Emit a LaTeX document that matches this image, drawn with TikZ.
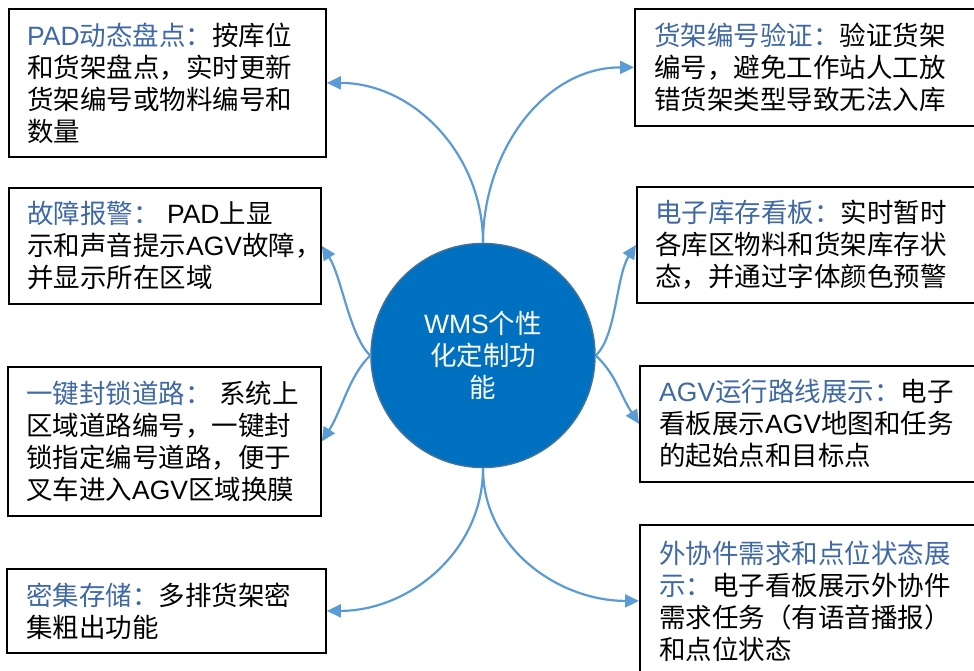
\documentclass[tikz,border=0pt]{standalone}
\usepackage{fontspec}
\setmainfont{Noto Sans CJK SC}
\newfontfamily\lat{Liberation Sans}
\usetikzlibrary{arrows.meta}
\definecolor{hd}{RGB}{62,104,166}
\definecolor{cfill}{RGB}{0,112,192}
\definecolor{cedge}{RGB}{65,113,156}
\definecolor{conn}{RGB}{91,155,213}
\begin{document}
\begin{tikzpicture}[x=1pt,y=1pt,
  panel/.style={draw=black, line width=1.8pt, fill=white, inner sep=0pt, anchor=north west},
  txt/.style={anchor=west, align=left, inner sep=0pt, font=\fontsize{26.5}{32}\selectfont},
  link/.style={draw=conn, line width=2.2pt, -{Triangle[length=14pt,width=13pt]}},
  hub/.style={circle, minimum size=224pt, fill=cfill, draw=cedge, line width=1.5pt, text=white, align=center, inner sep=0pt, font=\fontsize{26.5}{32}\selectfont}
  ]
\useasboundingbox (0,0) rectangle (974,671);
\clip (0,0) rectangle (974,671);
% boxes
\node[panel, minimum width=317pt, minimum height=148pt] (b1) at (8,663) {};
\node[panel, minimum width=312pt, minimum height=116pt] (b2) at (8,484) {};
\node[panel, minimum width=313pt, minimum height=149pt] (b3) at (7,305) {};
\node[panel, minimum width=319pt, minimum height=84pt] (b4) at (6,103) {};
\node[panel, minimum width=360pt, minimum height=117pt] (b5) at (634,663) {};
\node[panel, minimum width=360pt, minimum height=116pt] (b6) at (636,485) {};
\node[panel, minimum width=360pt, minimum height=116pt] (b7) at (639,306) {};
\node[panel, minimum width=360pt, minimum height=152pt] (b8) at (639,147) {};
% texts
\node[txt] (t1) at ([xshift=19pt]b1.west) {{\color{hd}{\lat PAD}动态盘点：}按库位\\和货架盘点，实时更新\\货架编号或物料编号和\\数量};
\node[txt] (t2) at ([xshift=19pt]b2.west) {{\color{hd}故障报警：}{\lat\ PAD}上显\\示和声音提示{\lat AGV}故障，\\并显示所在区域};
\node[txt] (t3) at ([xshift=19pt]b3.west) {{\color{hd}一键封锁道路：}{\lat\ }系统上\\区域道路编号，一键封\\锁指定编号道路，便于\\叉车进入{\lat AGV}区域换膜};
\node[txt] (t4) at ([xshift=20pt]b4.west) {{\color{hd}密集存储：}多排货架密\\集粗出功能};
\node[txt] (t5) at ([xshift=20pt]b5.west) {{\color{hd}货架编号验证：}验证货架\\编号，避免工作站人工放\\错货架类型导致无法入库};
\node[txt] (t6) at ([xshift=19pt]b6.west) {{\color{hd}电子库存看板：}实时暂时\\各库区物料和货架库存状\\态，并通过字体颜色预警};
\node[txt] (t7) at ([xshift=20pt]b7.west) {{\color{hd}{\lat AGV}运行路线展示：}电子\\看板展示{\lat AGV}地图和任务\\的起始点和目标点};
\node[txt] (t8) at ([xshift=20pt]b8.west) {{\color{hd}外协件需求和点位状态展}\\{\color{hd}示：}电子看板展示外协件\\需求任务（有语音播报）\\和点位状态};
% hub
\node[hub] (c) at (483,315.5) {{\lat WMS}个性\\化定制功\\能};
% connectors
\draw[link] (c.north) to[out=90,in=0] (b1.east);
\draw[link] (c.north) to[out=90,in=180] (b5.west);
\draw[link] (c.west) .. controls +(-21,20) and +(20,-31) .. (b2.east);
\draw[link] (c.west) .. controls +(-21,-20) and +(20,31) .. (b3.east);
\draw[link] (c.south) to[out=-90,in=0] (b4.east);
\draw[link] (c.east) .. controls +(21,20) and +(-20,-31) .. (b6.west);
\draw[link] (c.east) .. controls +(21,-20) and +(-20,31) .. (b7.west);
\draw[link] (c.south) to[out=-90,in=180] (b8.west);
\end{tikzpicture}
\end{document}
